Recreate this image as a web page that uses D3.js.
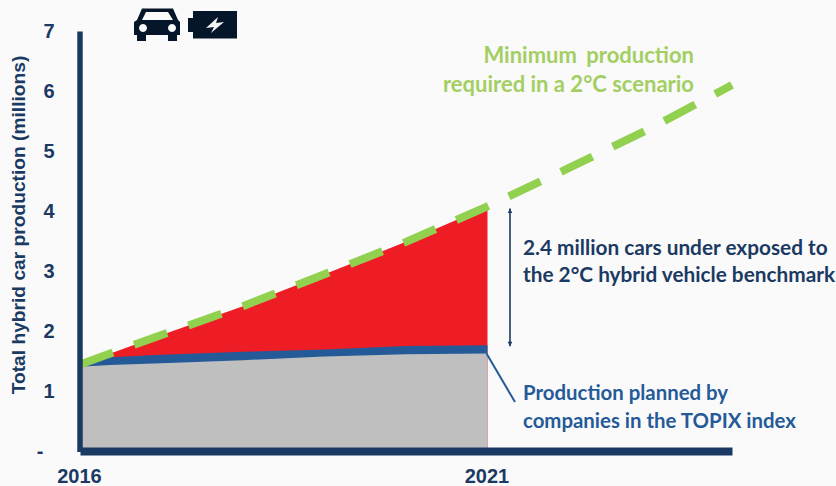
<!DOCTYPE html>
<html>
<head>
<meta charset="utf-8">
<script src="https://cdnjs.cloudflare.com/ajax/libs/d3/7.8.5/d3.min.js"></script>
<style>
  html, body { margin: 0; padding: 0; background: #fafafa; }
  svg { display: block; }
  .note { font-family: Lato, "Open Sans", sans-serif; font-weight: 700; }
  .axis-text { font-family: "Liberation Sans", Arial, sans-serif; font-weight: 700; fill: #1b3a63; }
</style>
</head>
<body>
<svg id="chart" width="836" height="486"></svg>
<script>
var yearTicks = [2016, 2021];
var valueTicks = [0, 1, 2, 3, 4, 5, 6, 7];

// 2 degree scenario
var scenarioYears = [2016, 2017, 2018, 2019, 2020, 2021, 2022, 2023, 2024];
var scenarioValues = [1.45, 1.94, 2.42, 2.95, 3.49, 4.08, 4.72, 5.38, 6.10];

// top of the blue band and top of the grey area
var plannedYears = [2016, 2016.37, 2017, 2018, 2019, 2020, 2021];
var bandValues = [1.41, 1.57, 1.61, 1.66, 1.70, 1.755, 1.77];
var greyValues = [1.41, 1.44, 1.47, 1.52, 1.58, 1.62, 1.63];

var svg = d3.select("#chart");

var x = d3.scaleLinear().domain([2016, 2024]).range([80, 732]);
var y = d3.scaleLinear().domain([0, 7]).range([451.5, 31]);

var scenario = scenarioYears.map(function(d, i) { return {year: d, value: scenarioValues[i]}; });
var planned = plannedYears.map(function(d, i) { return {year: d, band: bandValues[i], grey: greyValues[i]}; });
var endYear = 2021;

// Areas
var redArea = d3.area()
  .x(function(d) { return x(d.year); })
  .y0(y(0))
  .y1(function(d) { return y(d.value); });

svg.append("path")
  .datum(scenario.filter(function(d) { return d.year <= endYear; }))
  .attr("d", redArea)
  .attr("fill", "#ee1c25");

// runs a little under the grey so no red shows along the seam
svg.append("path")
  .datum(planned)
  .attr("d", d3.area()
    .x(function(d) { return x(d.year); })
    .y0(function(d) { return y(d.grey) + 1.5; })
    .y1(function(d) { return y(d.band); }))
  .attr("fill", "#255a99");

svg.append("path")
  .datum(planned)
  .attr("d", d3.area()
    .x(function(d) { return x(d.year); })
    .y0(y(0))
    .y1(function(d) { return y(d.grey); }))
  .attr("fill", "#bfbfbf");

// Dashed scenario line
svg.append("path")
  .datum(scenario)
  .attr("d", d3.line()
    .x(function(d) { return x(d.year); })
    .y(function(d) { return y(d.value); }))
  .attr("fill", "none")
  .attr("stroke", "#92d14f")
  .attr("stroke-width", 8)
  .attr("stroke-dasharray", "35 22.6");

// Axes
var yAxis = svg.append("g")
  .attr("transform", "translate(79.5,0)")
  .call(d3.axisLeft(y).tickValues(valueTicks).tickSize(0).tickPadding(25)
    .tickFormat(function(d) { return d === 0 ? "-" : d; }));
yAxis.select(".domain").attr("stroke", "#1b3a63").attr("stroke-width", 5.5);
yAxis.selectAll("text").attr("class", "axis-text").style("font-size", "20px");
yAxis.selectAll("text").filter(function(d) { return d === 0; }).attr("dx", -11);

var xAxis = svg.append("g")
  .attr("transform", "translate(0,451)")
  .call(d3.axisBottom(x).tickValues(yearTicks).tickSize(0).tickPadding(18)
    .tickFormat(d3.format("d")));
xAxis.select(".domain").attr("stroke", "#1b3a63").attr("stroke-width", 8);
xAxis.selectAll("text").attr("class", "axis-text").attr("dx", -1).style("font-size", "20px");

svg.append("text")
  .attr("class", "axis-text")
  .attr("transform", "translate(25,225) rotate(-90)")
  .attr("text-anchor", "middle")
  .style("font-size", "19.2px")
  .text("Total hybrid car production (millions)");

// Double arrow for the gap
var defs = svg.append("defs");
["arrowStart", "arrowEnd"].forEach(function(id, i) {
  defs.append("marker")
    .attr("id", id)
    .attr("viewBox", "0 0 6 8")
    .attr("refX", i ? 6 : 0)
    .attr("refY", 3)
    .attr("orient", "auto")
    .attr("markerWidth", 6)
    .attr("markerHeight", 6)
    .attr("markerUnits", "userSpaceOnUse")
    .append("path")
    .attr("d", i ? "M0,0L6,3L0,6Z" : "M6,0L0,3L6,6Z")
    .attr("fill", "#1b3a63");
});
svg.append("line")
  .attr("x1", 510).attr("x2", 510)
  .attr("y1", y(scenarioValues[5]) + 2).attr("y2", y(bandValues[6]) + 1)
  .attr("stroke", "#1b3a63").attr("stroke-width", 1.6)
  .attr("marker-start", "url(#arrowStart)")
  .attr("marker-end", "url(#arrowEnd)");

// Leader line to the blue label
svg.append("line")
  .attr("x1", x(endYear) - 1).attr("y1", y(greyValues[6]))
  .attr("x2", 515).attr("y2", 402)
  .attr("stroke", "#255a99").attr("stroke-width", 2);

// Notes
function note(lines, xPos, baselines, anchor, color, size, wordGap) {
  lines.forEach(function(t, i) {
    svg.append("text")
      .attr("class", "note")
      .attr("x", xPos).attr("y", baselines[i])
      .attr("text-anchor", anchor)
      .attr("fill", color)
      .style("font-size", size + "px")
      .style("word-spacing", (wordGap ? wordGap[i] : 0) + "px")
      .text(t);
  });
}
note(["Minimum production", "required in a 2°C scenario"], 694, [63, 92], "end", "#a3cf62", 22, [4, 0]);
note(["2.4 million cars under exposed to", "the 2°C hybrid vehicle benchmark"], 523, [255, 282], "start", "#1b3a63", 20.8);
note(["Production planned by", "companies in the TOPIX index"], 523, [400, 428], "start", "#255a99", 20.4);

// Car and battery icons
var icons = svg.append("g").attr("fill", "#05162a");
icons.append("path")
  .attr("fill-rule", "evenodd")
  .attr("d", "M142,8.5H173L178,20L180,22V35H177V41H168V35H146V41H137V35H134V22L137,20Z" +
    "M146,12L142,20H173L168,12Z" +
    "M143,24a4,4 0 1,0 0.01,0Z" +
    "M172,24a4,4 0 1,0 0.01,0Z");
icons.append("rect").attr("x", 193).attr("y", 11).attr("width", 44).attr("height", 27.5);
icons.append("rect").attr("x", 188).attr("y", 18).attr("width", 6).attr("height", 14);
icons.append("path").attr("fill", "#f4f4f4")
  .attr("d", "M218,17L206,28L214,27L211,33L224,22L216,23Z");
</script>
</body>
</html>
